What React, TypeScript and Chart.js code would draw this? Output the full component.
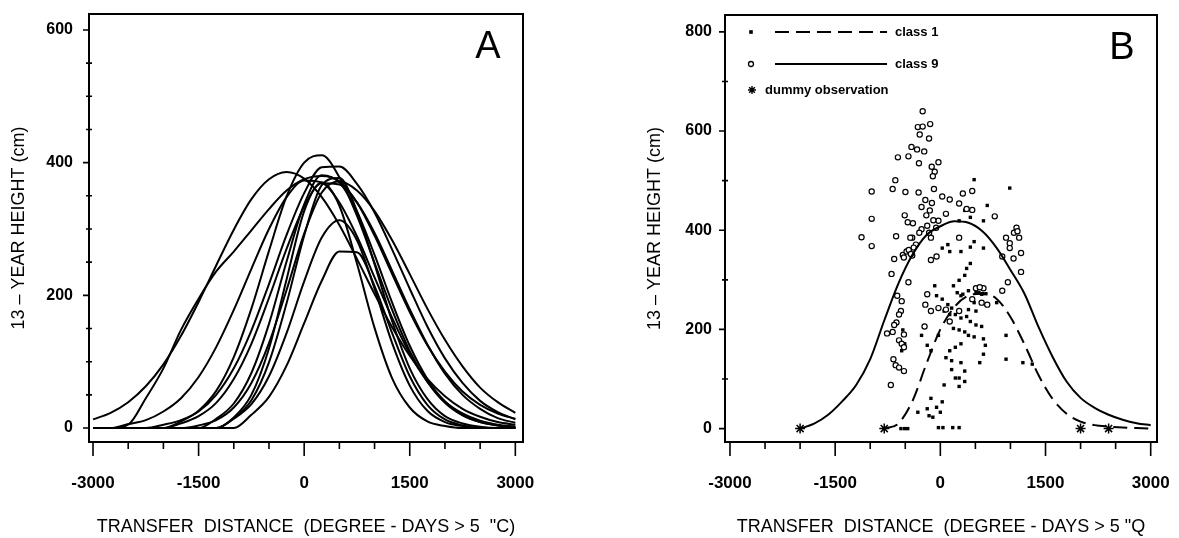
import React, { useEffect, useRef } from 'react';
import { Chart, registerables } from 'chart.js';

Chart.register(...registerables);

// ---------- Panel A data ----------
const GRID_A = [-3000, -2750, -2500, -2250, -2000, -1750, -1500, -1250, -1000, -750, -500, -250, 0, 250, 500, 750, 1000, 1250, 1500, 1750, 2000, 2250, 2500, 2750, 3000];

const CURVE_A1 = [13, 23, 39, 63, 96, 139, 190, 245, 299, 345, 375, 386, 376, 348, 306, 255, 202, 152, 109, 74, 48, 29, 17, 9, 5];
const CURVE_A2 = [0, 0, 5, 45, 90, 148, 195, 236, 266, 298, 330, 358, 375, 380, 372, 340, 290, 232, 175, 125, 85, 55, 35, 22, 14];
const CURVE_A3 = [0, 0, 0, 0, 0, 10, 26, 56, 107, 180, 267, 349, 400, 411, 378, 320, 249, 178, 116, 70, 38, 19, 9, 4, 2];
const CURVE_A4 = [0, 0, 0, 0, 5, 12, 25, 50, 90, 147, 217, 291, 354, 393, 394, 368, 325, 269, 210, 153, 105, 68, 41, 24, 13];
const CURVE_A5 = [0, 0, 0, 0, 0, 0, 4, 12, 31, 68, 128, 208, 293, 355, 372, 358, 327, 283, 232, 180, 133, 93, 61, 39, 23];
const CURVE_A6 = [0, 0, 0, 0, 0, 0, 0, 14, 37, 83, 157, 251, 337, 381, 370, 326, 261, 189, 124, 74, 40, 20, 9, 4, 1];
const CURVE_A7 = [0, 0, 0, 0, 0, 0, 0, 0, 15, 42, 99, 188, 290, 366, 377, 327, 247, 161, 90, 44, 18, 7, 2, 0, 0];
const CURVE_A8 = [0, 0, 0, 0, 0, 0, 0, 0, 16, 50, 120, 224, 327, 370, 335, 248, 151, 75, 31, 10, 3, 0, 0, 0, 0];
const CURVE_A9 = [0, 0, 0, 0, 0, 0, 0, 0, 14, 36, 78, 143, 221, 287, 313, 283, 210, 128, 64, 26, 9, 3, 0, 0, 0];
const CURVE_A10 = [0, 0, 0, 0, 0, 0, 0, 0, 0, 20, 47, 94, 158, 222, 266, 265, 214, 143, 78, 35, 13, 4, 0, 0, 0];
const CURVE_A11 = [0, 0, 6, 12, 25, 45, 77, 122, 178, 240, 300, 348, 373, 370, 340, 289, 227, 166, 112, 70, 40, 22, 11, 5, 2];
const CURVE_A12 = [0, 0, 0, 0, 0, 7, 18, 38, 74, 127, 196, 270, 334, 369, 367, 340, 294, 237, 179, 126, 82, 50, 29, 15, 8];

const CURVES_A = [CURVE_A1, CURVE_A2, CURVE_A3, CURVE_A4, CURVE_A5, CURVE_A6, CURVE_A7, CURVE_A8, CURVE_A9, CURVE_A10, CURVE_A11, CURVE_A12];

// ---------- Panel B data ----------
const SOLID_X = [-2000, -1800, -1600, -1400, -1200, -1000, -800, -600, -400, -200, 0, 200, 400, 600, 800, 1000, 1200, 1400, 1600, 1800, 2000, 2200, 2400, 2600, 2800, 3000];
const SOLID_Y = [0, 10, 28, 55, 88, 140, 218, 292, 350, 390, 408, 418, 415, 398, 365, 320, 272, 205, 145, 95, 62, 42, 28, 18, 11, 7];

const DASH_X = [-800, -600, -400, -200, 0, 200, 400, 600, 800, 1000, 1200, 1400, 1600, 1800, 2000, 2200, 2400, 2600, 2800, 3000];
const DASH_Y = [0, 10, 55, 130, 200, 245, 268, 272, 262, 225, 170, 108, 60, 30, 14, 7, 4, 2, 1, 0];

const DUMMY_X = [-2000, -800, 2000, 2400];
const DUMMY_Y = [0, 0, 0, 0];

const CLASS9_X = [-252, -321, -252, -145, -294, -161, -412, -332, -230, -605, -455, -305, -123, -80, -107, -27, -642, -680, -979, -498, -310, -91, 27, 134, -979, -1124, -979, -631, -401, -391, -508, -465, -268, -187, -134, -27, 80, 321, 455, 375, 455, 268, 776, 937, 990, 1086, 1124, 990, 1151, 1044, 1151, 883, 963, 883, 669, 615, 508, -54, -134, -401, -535, -482, -696, -455, -615, -551, -562, -589, -626, -658, -680, -519, -760, -589, -551, -519, -669, -637, -589, -519, -706, -187, -214, -134, -27, 80, 134, 268, 455, 589, 562, -225, 268, -214, -268, -428, -348, -658, -450, -420, -380, -520, -300, -150, -120, -200, -100, -60, -160, 1050, 1100];
const CLASS9_Y = [640, 608, 609, 614, 593, 585, 568, 563, 559, 547, 549, 535, 528, 518, 509, 537, 501, 483, 478, 477, 476, 483, 468, 462, 423, 386, 368, 388, 385, 414, 430, 416, 402, 409, 385, 419, 433, 474, 479, 443, 441, 454, 428, 385, 374, 405, 385, 364, 354, 343, 316, 347, 295, 278, 250, 283, 283, 347, 340, 349, 350, 357, 312, 295, 268, 257, 237, 230, 214, 209, 195, 190, 192, 178, 171, 164, 140, 128, 123, 116, 88, 271, 250, 237, 243, 240, 216, 237, 261, 254, 285, 206, 385, 461, 447, 385, 371, 342, 360, 352, 365, 345, 395, 440, 455, 430, 420, 405, 395, 395, 398];

const CLASS1_X = [482, 990, 669, 615, 428, 348, 268, 27, 134, 294, 428, 615, 428, 375, 348, 268, 187, 241, 321, 401, 508, 589, -80, -54, 27, 107, 161, 54, 134, 214, 294, 375, 428, 508, 187, 268, 348, 401, 482, 589, 615, 642, 615, 294, 214, 134, 80, -134, -187, -27, 161, 294, 562, 348, 161, 214, 268, 348, 268, 54, 937, 1177, 1311, 937, 803, -268, -134, -187, -321, -161, -107, -54, 27, 0, -27, 37, 177, 268, -562, -508, -465, -535, -508, -551, 482, 107, 294, 401, 508, 482, 550, 600, 650];
const CLASS1_Y = [502, 485, 450, 419, 426, 440, 419, 364, 357, 357, 366, 364, 333, 323, 309, 299, 288, 274, 271, 278, 274, 271, 288, 268, 261, 250, 243, 237, 230, 230, 223, 226, 216, 209, 202, 199, 195, 188, 185, 206, 181, 168, 150, 171, 164, 157, 143, 157, 168, 188, 137, 133, 133, 116, 119, 102, 102, 95, 85, 88, 140, 133, 130, 188, 254, 188, 61, 40, 33, 26, 23, 43, 54, 33, 2, 2, 2, 2, 0, 0, 0, 199, 171, 157, 377, 371, 268, 240, 237, 254, 274, 272, 272];

// ---------- ticks / titles ----------
const X_TICKS = [-3000, -2500, -2000, -1500, -1000, -500, 0, 500, 1000, 1500, 2000, 2500, 3000];
const X_LABELED = [-3000, -1500, 0, 1500, 3000];
const Y_TICKS_A = [0, 50, 100, 150, 200, 250, 300, 350, 400, 450, 500, 550, 600];
const Y_TICKS_B = [0, 100, 200, 300, 400, 500, 600, 700, 800];
const Y_LABELED = [0, 200, 400, 600, 800];
const X_TITLE_A = 'TRANSFER  DISTANCE  (DEGREE - DAYS > 5  "C)';
const X_TITLE_B = 'TRANSFER  DISTANCE  (DEGREE - DAYS > 5 "Q';
const Y_TITLE = '13 – YEAR HEIGHT (cm)';
const LEGEND_LABELS = ['class 1', 'class 9', 'dummy observation'];

const FONT = '"Liberation Sans", Arial, Helvetica, sans-serif';
const NARROW = '"Liberation Sans Narrow", "Liberation Sans", Arial, sans-serif';
const DASH = [14, 7];

const pairs = (xs: number[], ys: number[]) => xs.map((x, i) => ({ x, y: ys[i] }));

function framePlugin(letter: string) {
  return {
    id: 'frame' + letter,
    afterDraw(chart: any) {
      const { ctx, chartArea: a, scales } = chart;
      const xs = scales.x;
      const ys = scales.y;
      ctx.save();
      ctx.strokeStyle = '#000';
      ctx.lineWidth = 2;
      ctx.strokeRect(a.left, a.top, a.right - a.left, a.bottom - a.top);
      ctx.lineWidth = 1.6;
      ctx.beginPath();
      xs.ticks.forEach((t: any) => {
        const px = xs.getPixelForValue(t.value);
        const len = X_LABELED.includes(t.value) ? 14 : 7;
        ctx.moveTo(px, a.bottom);
        ctx.lineTo(px, a.bottom + len);
      });
      ys.ticks.forEach((t: any) => {
        const py = ys.getPixelForValue(t.value);
        if (Y_LABELED.includes(t.value)) {
          ctx.moveTo(a.left - 6, py);
          ctx.lineTo(a.left, py);
        } else {
          ctx.moveTo(a.left - 3, py);
          ctx.lineTo(a.left + 3, py);
        }
      });
      ctx.stroke();
      ctx.fillStyle = '#000';
      ctx.font = '38px ' + FONT;
      ctx.textAlign = 'center';
      ctx.textBaseline = 'middle';
      ctx.fillText(letter, a.right - 35, a.top + 34);
      ctx.restore();
    },
  };
}

const legendPlugin = {
  id: 'legendB',
  afterDraw(chart: any) {
    const { ctx, chartArea: a } = chart;
    const mx = a.left + 26;
    const l0 = a.left + 50;
    const l1 = a.left + 162;
    const tx = a.left + 170;
    const r1 = a.top + 17;
    const r2 = a.top + 49;
    const r3 = a.top + 75;
    ctx.save();
    ctx.fillStyle = '#000';
    ctx.strokeStyle = '#000';
    // class 1
    ctx.fillRect(mx - 1.8, r1 - 1.8, 3.6, 3.6);
    ctx.lineWidth = 2;
    ctx.setLineDash(DASH);
    ctx.beginPath();
    ctx.moveTo(l0, r1);
    ctx.lineTo(l1, r1);
    ctx.stroke();
    ctx.setLineDash([]);
    // class 9
    ctx.lineWidth = 1.3;
    ctx.beginPath();
    ctx.arc(mx, r2, 2.5, 0, Math.PI * 2);
    ctx.stroke();
    ctx.lineWidth = 2;
    ctx.beginPath();
    ctx.moveTo(l0, r2);
    ctx.lineTo(l1, r2);
    ctx.stroke();
    // dummy
    ctx.lineWidth = 1.4;
    ctx.beginPath();
    for (let k = 0; k < 4; k++) {
      const ang = (k * Math.PI) / 4;
      ctx.moveTo(mx + 1 + Math.cos(ang) * 4, r3 + Math.sin(ang) * 4);
      ctx.lineTo(mx + 1 - Math.cos(ang) * 4, r3 - Math.sin(ang) * 4);
    }
    ctx.stroke();
    ctx.font = 'bold 13px ' + FONT;
    ctx.textAlign = 'left';
    ctx.textBaseline = 'middle';
    ctx.fillText(LEGEND_LABELS[0], tx, r1);
    ctx.fillText(LEGEND_LABELS[1], tx, r2);
    ctx.fillText(LEGEND_LABELS[2], mx + 14, r3);
    ctx.restore();
  },
};

function makeScales(o: {
  xmin: number; xmax: number; ymin: number; ymax: number; yTicks: number[];
  yWidth: number; yPad: number; yTitlePad: number; xTitle: string;
}) {
  return {
    x: {
      type: 'linear',
      min: o.xmin,
      max: o.xmax,
      afterBuildTicks: (s: any) => {
        s.ticks = X_TICKS.map((v) => ({ value: v }));
      },
      afterFit: (s: any) => {
        s.height = 96;
        s.paddingLeft = 0;
        s.paddingRight = 0;
      },
      grid: { display: false, drawTicks: false },
      border: { display: false },
      ticks: {
        autoSkip: false,
        maxRotation: 0,
        minRotation: 0,
        padding: 31,
        color: '#000',
        font: { family: FONT, size: 17, weight: 'bold' },
        callback: (v: any) => (X_LABELED.includes(Number(v)) ? String(v) : ''),
      },
      title: {
        display: true,
        text: o.xTitle,
        color: '#000',
        font: { family: FONT, size: 18 },
        padding: { top: 0, bottom: 0 },
      },
    },
    y: {
      type: 'linear',
      min: o.ymin,
      max: o.ymax,
      afterBuildTicks: (s: any) => {
        s.ticks = o.yTicks.map((v) => ({ value: v }));
      },
      afterFit: (s: any) => {
        s.width = o.yWidth;
        s.paddingTop = 0;
        s.paddingBottom = 0;
      },
      grid: { display: false, drawTicks: false },
      border: { display: false },
      ticks: {
        autoSkip: false,
        padding: o.yPad,
        color: '#000',
        font: { family: NARROW, size: 16, weight: 'bold' },
        callback: (v: any) => (Y_LABELED.includes(Number(v)) ? String(v) : ''),
      },
      title: {
        display: true,
        text: Y_TITLE,
        color: '#000',
        font: { family: FONT, size: 18 },
        padding: { top: o.yTitlePad, bottom: 0 },
      },
    },
  };
}

export default function App() {
  const refA = useRef<HTMLCanvasElement>(null);
  const refB = useRef<HTMLCanvasElement>(null);

  useEffect(() => {
    const base = {
      responsive: false,
      animation: false,
      events: [],
      plugins: { legend: { display: false }, tooltip: { enabled: false } },
    };

    const chartA = new Chart(refA.current as HTMLCanvasElement, {
      type: 'scatter',
      data: {
        datasets: CURVES_A.map((c) => ({
          data: pairs(GRID_A, c),
          showLine: true,
          borderColor: '#000',
          borderWidth: 2,
          pointRadius: 0,
          cubicInterpolationMode: 'monotone',
          fill: false,
        })),
      },
      options: {
        ...base,
        layout: { padding: { left: 0, right: 67, top: 14, bottom: 0 } },
        scales: makeScales({
          xmin: -3057, xmax: 3109, ymin: -21, ymax: 624, yTicks: Y_TICKS_A,
          yWidth: 89, yPad: 16, yTitlePad: 8, xTitle: X_TITLE_A,
        }),
      } as any,
      plugins: [framePlugin('A')],
    } as any);

    const chartB = new Chart(refB.current as HTMLCanvasElement, {
      type: 'scatter',
      data: {
        datasets: [
          {
            data: pairs(SOLID_X, SOLID_Y),
            showLine: true,
            borderColor: '#000',
            borderWidth: 2,
            pointRadius: 0,
            cubicInterpolationMode: 'monotone',
          },
          {
            data: pairs(DASH_X, DASH_Y),
            showLine: true,
            borderColor: '#000',
            borderWidth: 2,
            borderDash: DASH,
            pointRadius: 0,
            cubicInterpolationMode: 'monotone',
          },
          {
            data: pairs(CLASS9_X, CLASS9_Y),
            pointStyle: 'circle',
            pointRadius: 2.6,
            borderWidth: 1.2,
            borderColor: '#000',
            backgroundColor: '#fff',
          },
          {
            data: pairs(CLASS1_X, CLASS1_Y),
            pointStyle: 'rect',
            pointRadius: 2.4,
            borderWidth: 0,
            backgroundColor: '#000',
            borderColor: '#000',
          },
          {
            data: pairs(DUMMY_X, DUMMY_Y),
            pointStyle: 'star',
            pointRadius: 5,
            borderWidth: 1.5,
            borderColor: '#000',
            backgroundColor: '#000',
          },
        ],
      },
      options: {
        ...base,
        layout: { padding: { left: 0, right: 22, top: 15, bottom: 0 } },
        scales: makeScales({
          xmin: -3071, xmax: 3090, ymin: -27, ymax: 834, yTicks: Y_TICKS_B,
          yWidth: 135, yPad: 13, yTitlePad: 54, xTitle: X_TITLE_B,
        }),
      } as any,
      plugins: [framePlugin('B'), legendPlugin],
    } as any);

    return () => {
      chartA.destroy();
      chartB.destroy();
    };
  }, []);

  return (
    <div style={{ position: 'absolute', left: 0, top: 0, width: 1179, height: 538, background: '#fff' }}>
      <canvas ref={refA} width={590} height={538} style={{ position: 'absolute', left: 0, top: 0, width: 590, height: 538 }} />
      <canvas ref={refB} width={589} height={538} style={{ position: 'absolute', left: 590, top: 0, width: 589, height: 538 }} />
    </div>
  );
}
